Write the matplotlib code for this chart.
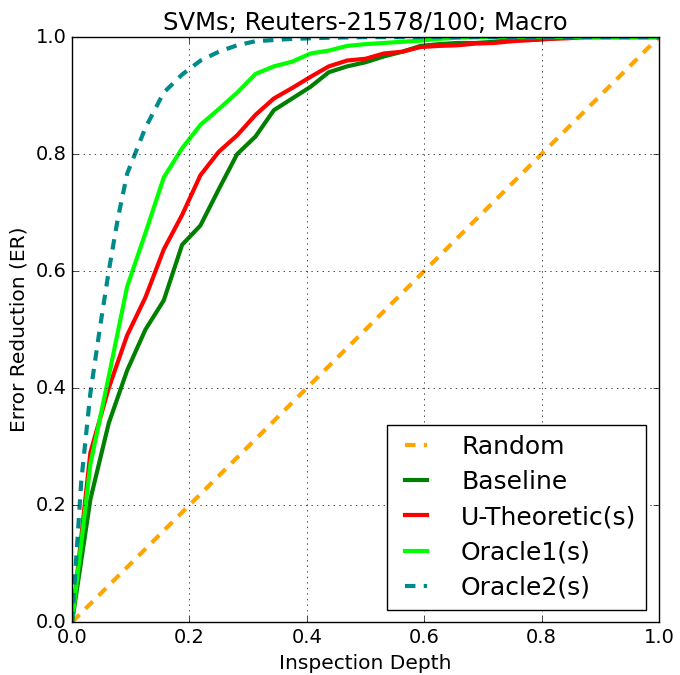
import numpy as np
import matplotlib
matplotlib.use('Agg')
import matplotlib.pyplot as plt

# inspection depth grid used by the SVM curves (steps of 1/32)
depth = [i / 32.0 for i in range(33)]

baseline = [0.0, 0.21, 0.34, 0.43, 0.50, 0.55, 0.645, 0.678, 0.74, 0.80, 0.83,
            0.875, 0.895, 0.915, 0.94, 0.95, 0.957, 0.967, 0.975, 0.985, 0.988,
            0.99, 0.99, 0.992, 0.995, 0.995, 0.997, 1.0, 1.0, 1.0, 1.0, 1.0, 1.0]
u_theoretic = [0.0, 0.29, 0.40, 0.49, 0.555, 0.637, 0.696, 0.764, 0.804, 0.832,
               0.867, 0.895, 0.913, 0.932, 0.95, 0.96, 0.963, 0.972, 0.975,
               0.983, 0.985, 0.986, 0.989, 0.99, 0.993, 0.995, 0.997, 0.998,
               1.0, 1.0, 1.0, 1.0, 1.0]
oracle1 = [0.0, 0.27, 0.42, 0.573, 0.665, 0.76, 0.81, 0.85, 0.877, 0.905, 0.937,
           0.95, 0.958, 0.972, 0.977, 0.985, 0.988, 0.99, 0.992, 0.994, 0.997,
           0.999, 1.0, 1.0, 1.0, 1.0, 1.0, 1.0, 1.0, 1.0, 1.0, 1.0, 1.0]

# oracle2 is drawn on a finer grid near the origin
depth2 = [0.0, 0.0156, 0.031, 0.047, 0.0625, 0.078, 0.094, 0.125, 0.156,
          0.1875, 0.219, 0.25, 0.281, 0.3125, 0.375, 0.4375, 0.5, 0.75, 1.0]
oracle2 = [0.0, 0.24, 0.39, 0.50, 0.60, 0.69, 0.767, 0.845, 0.905, 0.936,
           0.96, 0.975, 0.986, 0.993, 0.997, 0.999, 1.0, 1.0, 1.0]

random_x = [0.0, 1.0]
random_y = [0.0, 1.0]

plt.style.use('classic')
fig = plt.figure(figsize=(6.8, 6.75), dpi=100)
ax = fig.add_axes([0.106, 0.0785, 0.863, 0.8665])

dash = (7.5, 6)
ax.plot(random_x, random_y, '--', color='orange', lw=3, dashes=dash, label='Random')
ax.plot(depth, baseline, '-', color='green', lw=3, label='Baseline')
ax.plot(depth, u_theoretic, '-', color='red', lw=3, label='U-Theoretic(s)')
ax.plot(depth, oracle1, '-', color='lime', lw=3, label='Oracle1(s)')
ax.plot(depth2, oracle2, '--', color='darkcyan', lw=3, dashes=dash, label='Oracle2(s)')

ax.set_xlim(0, 1)
ax.set_ylim(0, 1)
ax.grid(True)
ax.tick_params(labelsize=14)
ax.set_xlabel('Inspection Depth', fontsize=14.5)
ax.set_ylabel('Error Reduction (ER)', fontsize=14.5)
ax.set_title('SVMs; Reuters-21578/100; Macro', fontsize=17.5)
ax.legend(loc='lower right', fontsize=18, handlelength=1.5,
          handletextpad=1.05, labelspacing=0.45)

fig.savefig('out.png', dpi=100)
